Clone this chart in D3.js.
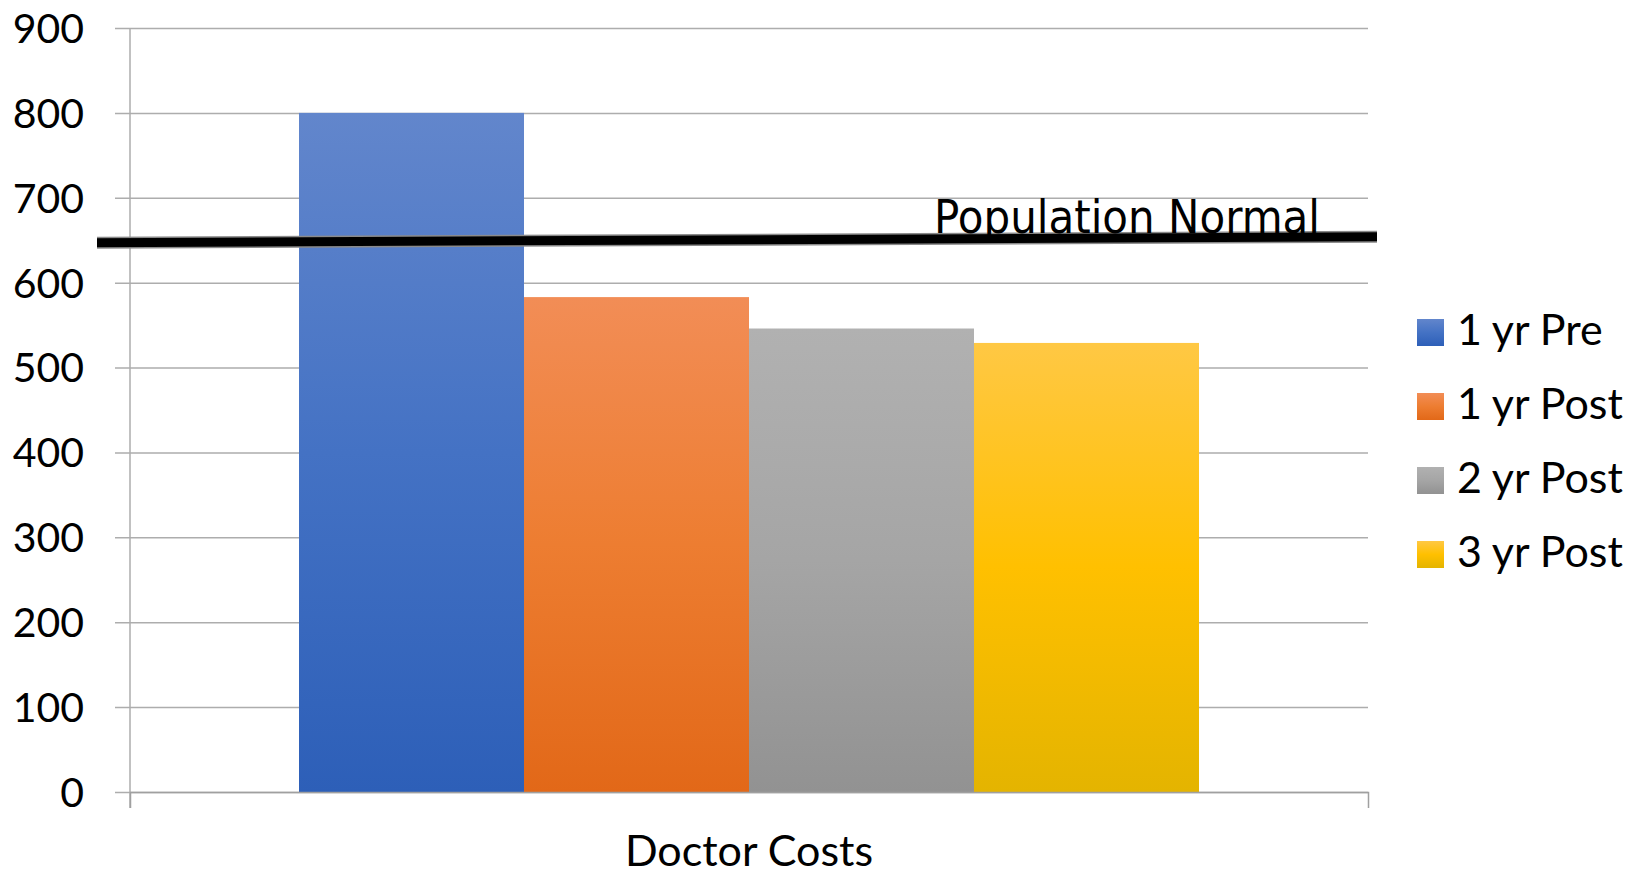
<!DOCTYPE html>
<html lang="en">
<head>
<meta charset="utf-8">
<title>Doctor Costs</title>
<style>
body { margin: 0; background: #fff; }
.tick-label { font: 41px Lato, sans-serif; fill: #000; }
.legend text { font: 43px Lato, sans-serif; fill: #000; }
.cat-label { font: 43px Lato, sans-serif; fill: #000; }
.normal-label { font: 46px "DejaVu Sans", sans-serif; fill: #000; }
</style>
</head>
<body>
<svg width="1645" height="876"></svg>
<script src="https://cdn.jsdelivr.net/npm/d3@7"></script>
<script>

const categories = ['Doctor Costs'];
const seriesNames = ['1 yr Pre', '1 yr Post', '2 yr Post', '3 yr Post'];
const seriesValues = [800, 583, 546, 529];
const yTicks = [0, 100, 200, 300, 400, 500, 600, 700, 800, 900];
// hand drawn "population normal" line, value at its left and right end
const normalLine = [647, 654];
const normalLabel = 'Population Normal';

// gradient stops: top, middle, bottom
const seriesColors = [
  ['#6286cc', '#4472c4', '#2d5fb8'],
  ['#f28d56', '#ed7d31', '#e26818'],
  ['#b1b1b1', '#a5a5a5', '#929292'],
  ['#ffc844', '#ffc000', '#e4b400']
];

const svg = d3.select('svg');
const plot = {left: 130, right: 1368, top: 28, bottom: 792};

const x0 = d3.scaleBand().domain(categories).range([plot.left, plot.right]);
const x1 = d3.scaleBand().domain(seriesNames)
    .rangeRound([0, x0.bandwidth()]).paddingInner(0).paddingOuter(0.75);
const y = d3.scaleLinear().domain([0, 900]).range([plot.bottom, plot.top]);

// gradients
const defs = svg.append('defs');
seriesNames.forEach((s, i) => {
  const g = defs.append('linearGradient')
      .attr('id', 'grad' + i)
      .attr('x1', 0).attr('y1', 0).attr('x2', 0).attr('y2', 1);
  g.selectAll('stop')
    .data(seriesColors[i])
    .enter().append('stop')
      .attr('offset', (d, j) => j * 50 + '%')
      .attr('stop-color', d => d);
});

// gridlines and y labels
const yAxis = svg.append('g')
    .attr('transform', 'translate(' + plot.right + ',0)')
    .call(d3.axisLeft(y).tickValues(yTicks)
      .tickSize(plot.right - plot.left + 15).tickSizeOuter(0).tickPadding(31));
yAxis.select('.domain').remove();
yAxis.selectAll('.tick line').attr('stroke', '#adadad').attr('stroke-width', 1.5);
yAxis.selectAll('.tick text')
    .attr('class', 'tick-label')
    .attr('font-size', null).attr('font-family', null)
    .attr('dy', '0.35em');

// bars
svg.append('g')
  .selectAll('g')
  .data(categories)
  .enter().append('g')
    .attr('transform', d => 'translate(' + x0(d) + ',0)')
  .selectAll('rect')
  .data(seriesNames.map((s, i) => ({name: s, value: seriesValues[i], i: i})))
  .enter().append('rect')
    .attr('x', d => x1(d.name))
    .attr('y', d => y(d.value))
    .attr('width', x1.bandwidth())
    .attr('height', d => y(0) - y(d.value))
    .attr('fill', d => 'url(#grad' + d.i + ')');

// vertical axis line and bottom axis with end ticks
svg.append('line')
    .attr('x1', plot.left).attr('x2', plot.left)
    .attr('y1', y(900)).attr('y2', y(0) + 16)
    .attr('stroke', '#adadad').attr('stroke-width', 1.5);

const xAxis = svg.append('g')
    .attr('transform', 'translate(0,' + y(0) + ')')
    .call(d3.axisBottom(x0).tickSize(0).tickSizeOuter(16).tickPadding(43));
xAxis.select('.domain').attr('stroke', '#a0a0a0').attr('stroke-width', 1.5);
xAxis.selectAll('.tick text')
    .attr('class', 'cat-label')
    .attr('font-size', null).attr('font-family', null);

// population normal line
const xl = d3.scaleLinear().domain([0, 1]).range([plot.left - 33, plot.right + 9]);
const normalPts = normalLine.map((v, i) => [xl(i), y(v)]);
svg.append('path')
    .attr('d', d3.line()(normalPts))
    .attr('stroke', '#8a8a8a').attr('stroke-width', 12).attr('fill', 'none');
svg.append('path')
    .attr('d', d3.line()(normalPts))
    .attr('stroke', '#000').attr('stroke-width', 9).attr('fill', 'none');

svg.append('text')
    .attr('class', 'normal-label')
    .attr('x', 934)
    .attr('y', 233)
    .attr('textLength', 386)
    .attr('lengthAdjust', 'spacingAndGlyphs')
    .text(normalLabel);

// legend
const legend = svg.append('g')
    .attr('class', 'legend')
  .selectAll('g')
  .data(seriesNames)
  .enter().append('g')
    .attr('transform', (d, i) => 'translate(1417,' + (319 + i * 74) + ')');

legend.append('rect')
    .attr('width', 27)
    .attr('height', 27)
    .attr('fill', (d, i) => 'url(#grad' + i + ')');

legend.append('text')
    .attr('x', 40)
    .attr('y', 10.5)
    .attr('dy', '0.36em')
    .text(d => d);

</script>
</body>
</html>
